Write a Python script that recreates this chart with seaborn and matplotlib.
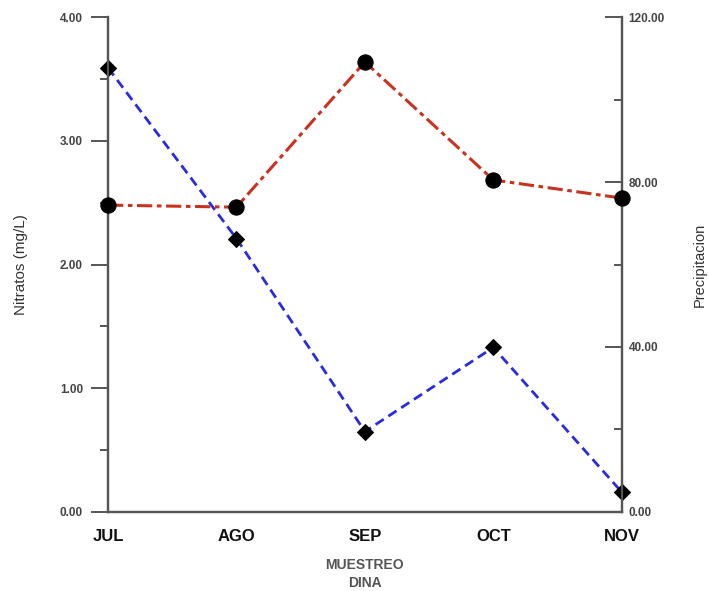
import matplotlib.pyplot as plt
import pandas as pd
import seaborn as sns
from matplotlib.ticker import MultipleLocator, FormatStrFormatter

# Data
meses = ["JUL", "AGO", "SEP", "OCT", "NOV"]
nitratos = [3.59, 2.21, 0.65, 1.33, 0.16]
precipitacion = [74.4, 73.9, 109.1, 80.5, 76.1]


def main():
    df = pd.DataFrame({
        "pos": range(len(meses)),
        "mes": meses,
        "nitratos": nitratos,
        "precipitacion": precipitacion,
    })

    sns.set_theme(style="white")
    plt.rcParams["font.family"] = ["Liberation Sans", "DejaVu Sans"]

    fig = plt.figure(figsize=(7.09, 5.91), dpi=100)
    ax = fig.add_axes([0.1523, 0.1337, 0.877 - 0.1523, 0.9712 - 0.1337])
    ax2 = ax.twinx()

    # Nitratos (left axis)
    sns.lineplot(data=df, x="pos", y="nitratos", ax=ax, color="#2a2ae0",
                 linestyle=(0, (3.5, 2)), linewidth=2, marker="D",
                 markersize=8, markerfacecolor="black",
                 markeredgecolor="black", clip_on=False, zorder=3)

    # Precipitacion (right axis)
    sns.lineplot(data=df, x="pos", y="precipitacion", ax=ax2, color="#c8321e",
                 linestyle=(0, (5, 1.5, 1.5, 1.5)), linewidth=2.2, marker="o",
                 markersize=11, markerfacecolor="black",
                 markeredgecolor="black", clip_on=False, zorder=3)

    ax.set_xlim(0, len(meses) - 1)
    ax.set_ylim(0, 4)
    ax2.set_ylim(0, 120)

    ax.set_xticks(df["pos"])
    ax.set_xticklabels(meses, fontsize=12, fontweight="bold", color="#111111")
    ax.xaxis.set_minor_locator(MultipleLocator(0.5))

    ax.yaxis.set_major_locator(MultipleLocator(1))
    ax.yaxis.set_minor_locator(MultipleLocator(0.5))
    ax.yaxis.set_major_formatter(FormatStrFormatter("%.2f"))
    ax2.yaxis.set_major_locator(MultipleLocator(40))
    ax2.yaxis.set_minor_locator(MultipleLocator(20))
    ax2.yaxis.set_major_formatter(FormatStrFormatter("%.2f"))

    spine_color = "#555555"
    for a in (ax, ax2):
        for s in a.spines.values():
            s.set_color(spine_color)
            s.set_linewidth(1.6)
        a.spines["top"].set_visible(False)

    ax.tick_params(axis="x", which="major", direction="out", length=7,
                   width=1.4, color=spine_color, pad=5)
    ax.tick_params(axis="x", which="minor", direction="out", length=7,
                   width=1.4, color=spine_color)
    ax.tick_params(axis="y", which="major", direction="out", length=12,
                   width=1.4, color=spine_color, labelsize=8.5,
                   labelcolor="#444444", pad=6)
    ax.tick_params(axis="y", which="minor", direction="out", length=6,
                   width=1.4, color=spine_color)
    ax2.tick_params(axis="y", which="major", direction="in", length=12,
                    width=1.4, color=spine_color, labelsize=8.5,
                    labelcolor="#444444", pad=5)
    ax2.tick_params(axis="y", which="minor", direction="in", length=6,
                    width=1.4, color=spine_color)
    for lbl in ax.get_yticklabels() + ax2.get_yticklabels():
        lbl.set_fontweight("bold")

    ax.set_xlabel("MUESTREO\nDINA", fontsize=10, fontweight="bold",
                  color="#555555", labelpad=10, linespacing=1.4)
    ax.set_ylabel("Nitratos (mg/L)", fontsize=11, color="#333333", labelpad=23)
    ax2.set_ylabel("Precipitacion", fontsize=10.5, color="#333333", labelpad=20)

    plt.savefig("out.png", dpi=100)
    plt.close()


if __name__ == "__main__":
    main()
